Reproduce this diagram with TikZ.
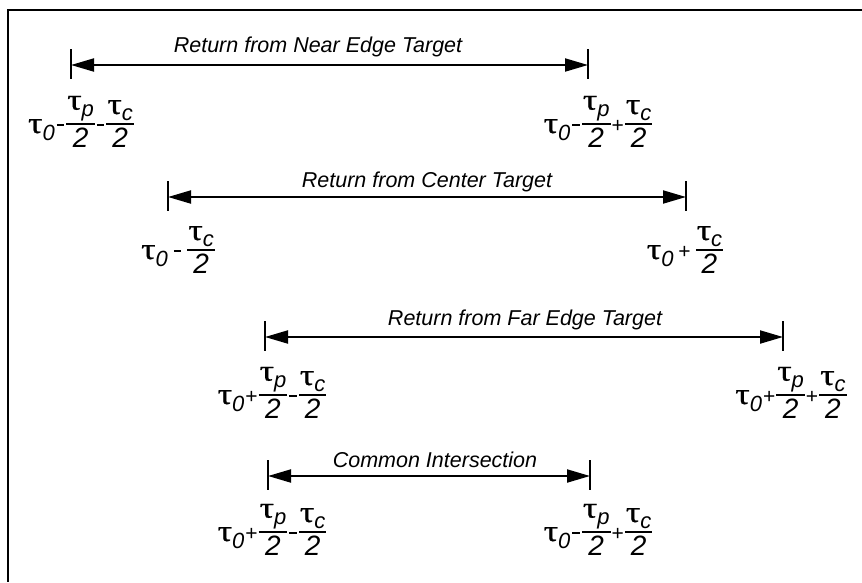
\documentclass[tikz,border=0pt]{standalone}
\usepackage{graphicx}
\usepackage{fontspec}
\setmainfont{Liberation Sans}
\newfontfamily\taufont[FakeBold=0.6]{Liberation Serif}
\usetikzlibrary{arrows.meta,calc}
\newcommand{\tT}[1]{\scalebox{1.2}[1]{\taufont\fontsize{30}{30}\selectfont τ}\raisebox{-7pt}{\fontsize{22}{22}\selectfont\itshape #1}}
\newcommand{\tw}{{\fontsize{28}{28}\selectfont\itshape 2}}
\newcommand{\mn}{\hspace{2pt}\rule[7pt]{7.5pt}{1.8pt}\hspace{2pt}}
\newcommand{\pl}{\hspace{1pt}\raisebox{1pt}{\fontsize{21}{21}\selectfont +}\hspace{1pt}}
\newcommand{\fr}[2]{\setbox2=\hbox{#2}\lower\dimexpr\ht2+3pt-8pt\relax\vbox{\halign{\hfil\kern1pt##\kern1pt\hfil\cr #1\cr\noalign{\kern2pt\hrule height 1.8pt\kern3pt}#2\cr}}}
\begin{document}
\begin{tikzpicture}[x=1pt,y=-1pt,
  frameline/.style={line width=2.6pt},
  tickline/.style={line width=2pt},
  dimarr/.style={line width=2pt,{Triangle[length=23pt,width=13pt]}-{Triangle[length=23pt,width=13pt]}},
  lbl/.style={font=\fontsize{21.5}{25}\selectfont\itshape,anchor=base,inner sep=0pt},
  frm/.style={font=\fontsize{20}{24}\selectfont,anchor=base,inner sep=0pt}]
\useasboundingbox (0,0) rectangle (862,582);
\fill[white] (0,0) rectangle (862,582);
% frame
\coordinate (ftl) at (8,10);
\coordinate (ftr) at (862,10);
\coordinate (fbl) at (8,582);
\draw[frameline] (ftr) -- (ftl) -- (fbl);
% arrow endpoints
\coordinate (a1) at (71,65);  \coordinate (b1) at (588,65);
\coordinate (a2) at (168,197); \coordinate (b2) at (686,197);
\coordinate (a3) at (265,337); \coordinate (b3) at (783,337);
\coordinate (a4) at (268,476); \coordinate (b4) at (590,476);
\foreach \p in {a1,b1,a2,b2,a3,b3,a4,b4}{
  \draw[tickline] ($(\p)+(0,-16)$) -- ($(\p)+(0,14)$);
}
\draw[dimarr] (a1) -- (b1);
\draw[dimarr] (a2) -- (b2);
\draw[dimarr] (a3) -- (b3);
\draw[dimarr] (a4) -- (b4);
% labels
\node[lbl] (l1) at (318,52) {Return from Near Edge Target};
\node[lbl] (l2) at (427,187) {Return from Center Target};
\node[lbl] (l3) at (525,325) {Return from Far Edge Target};
\node[lbl] (l4) at (435,467) {Common Intersection};
% formulas
\node[frm] (f1a) at (81,133) {\tT{0}\mn\fr{\tT{p}}{\tw}\mn\fr{\tT{c}}{\tw}};
\node[frm] (f1b) at (598,133) {\tT{0}\mn\fr{\tT{p}}{\tw}\pl\fr{\tT{c}}{\tw}};
\node[frm] (f2a) at (178,259) {\tT{0}\hspace{4pt}\mn\hspace{4pt}\fr{\tT{c}}{\tw}};
\node[frm] (f2b) at (685,259) {\tT{0}\hspace{4pt}\pl\hspace{4pt}\fr{\tT{c}}{\tw}};
\node[frm] (f3a) at (272,404) {\tT{0}\pl\fr{\tT{p}}{\tw}\mn\fr{\tT{c}}{\tw}};
\node[frm] (f3b) at (791,404) {\tT{0}\pl\fr{\tT{p}}{\tw}\pl\fr{\tT{c}}{\tw}};
\node[frm] (f4a) at (272,541) {\tT{0}\pl\fr{\tT{p}}{\tw}\mn\fr{\tT{c}}{\tw}};
\node[frm] (f4b) at (598,541) {\tT{0}\mn\fr{\tT{p}}{\tw}\pl\fr{\tT{c}}{\tw}};
\end{tikzpicture}
\end{document}
